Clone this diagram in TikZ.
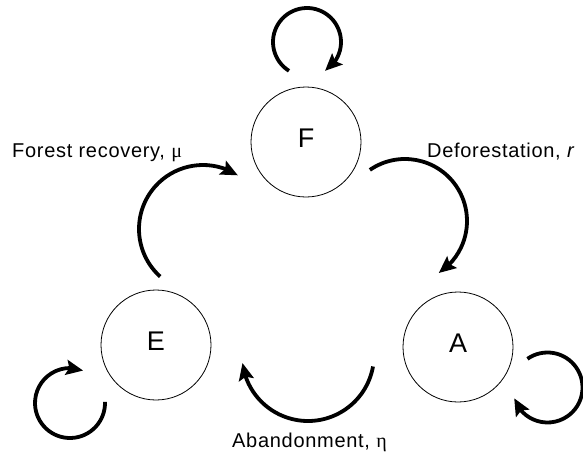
\documentclass[tikz,border=0pt]{standalone}
\usepackage{fontspec}
\setmainfont{Liberation Sans}
\newfontfamily\lblfont[LetterSpace=3.5]{Liberation Sans}
\newfontfamily\grkfont{Liberation Serif}
\usetikzlibrary{arrows.meta,bending}
\begin{document}
\begin{tikzpicture}[x=1pt,y=1pt,
  state/.style={circle,draw,line width=0.8pt,inner sep=0pt,minimum size=110pt,
    font=\fontsize{27}{27}\selectfont,text depth=8pt},
  lbl/.style={anchor=base west,inner sep=0pt,font=\lblfont\fontsize{20}{24}\selectfont},
  flow/.style={line width=3.8pt,-{Stealth[length=17pt,width=15pt,inset=3pt,flex]}}]
\useasboundingbox (0,0) rectangle (583,459);

% states
\node[state] (F) at (306,317) {F};
\node[state] (E) at (156,114) {E};
\node[state] (A) at (458,112) {A};

% start points of the arcs
\coordinate (FloopS) at ([shift={(238:34)}]307,417);
\coordinate (EloopS) at ([shift={(2:35)}]70,56);
\coordinate (AloopS) at ([shift={(125:35)}]547.5,71.5);
\coordinate (recS)   at ([shift={(228:64)}]203,230);
\coordinate (defS)   at ([shift={(124.5:62)}]405,238);
\coordinate (abaS)   at ([shift={(-10:66)}]308,104);

% self loops
\draw[flow] (FloopS) arc[start angle=238, end angle=-58, radius=34];
\draw[flow] (EloopS) arc[start angle=2, end angle=-292, radius=35];
\draw[flow] (AloopS) arc[start angle=125, end angle=-162, radius=35];

% transitions
\draw[flow] (recS) arc[start angle=228, end angle=57, radius=64];
\draw[flow] (defS) arc[start angle=124.5, end angle=-57, radius=62];
\draw[flow] (abaS) arc[start angle=-10, end angle=-173, radius=66];

% labels
\node[lbl] (lrec) at (12,302) {Forest recovery, {\grkfont μ}};
\node[lbl] (ldef) at (427,302) {Deforestation, \textit{r}};
\node[lbl] (laba) at (232,12) {Abandonment, {\grkfont η}};
\end{tikzpicture}
\end{document}
